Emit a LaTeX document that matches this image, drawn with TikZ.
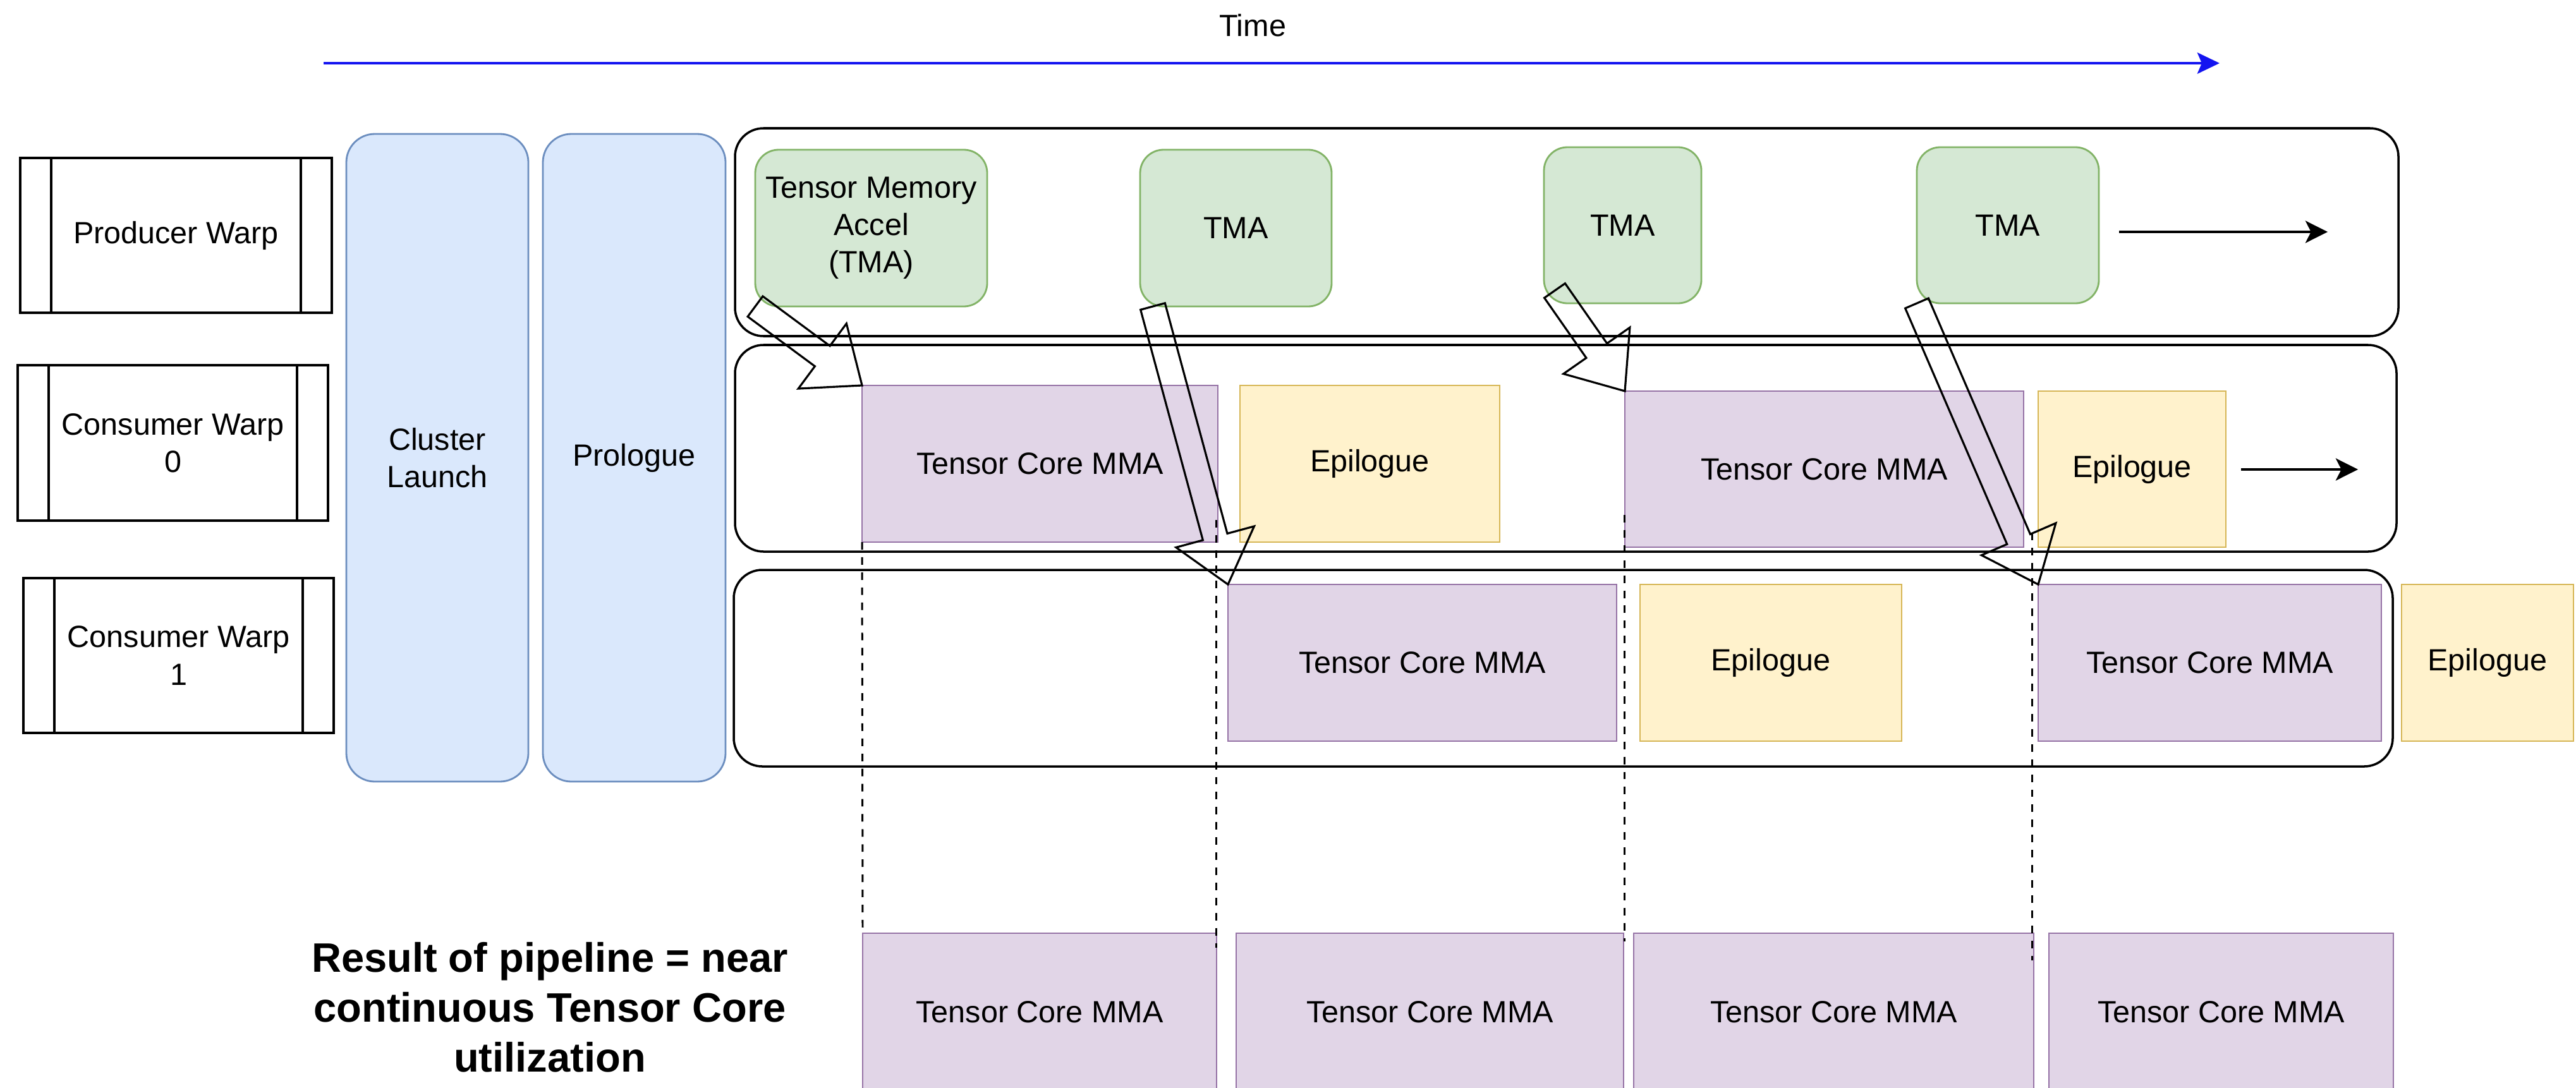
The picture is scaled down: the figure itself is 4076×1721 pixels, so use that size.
\documentclass[tikz,border=0pt]{standalone}
\usepackage{fontspec}
\setmainfont{Liberation Sans}
\usetikzlibrary{calc,arrows.meta}

\definecolor{blueF}{HTML}{DAE8FC}\definecolor{blueS}{HTML}{6C8EBF}
\definecolor{greenF}{HTML}{D5E8D4}\definecolor{greenS}{HTML}{82B366}
\definecolor{purpF}{HTML}{E1D5E7}\definecolor{purpS}{HTML}{9673A6}
\definecolor{yelF}{HTML}{FFF2CC}\definecolor{yelS}{HTML}{D6B656}
\definecolor{timeblue}{HTML}{1414F0}

% box given by its corners in pixel units: name, style, x1, y1, x2, y2, text
\newcommand\bx[7]{%
  \node[#2, minimum width={(#5-#3)*0.01cm}, minimum height={(#6-#4)*0.01cm}]
    (#1) at ({(#3+#5)/2},{(#4+#6)/2}) {#7};}

% hollow block arrow from tail #1 to tip #2, helper prefix #3
\newcommand\flexarrow[3]{%
  \coordinate (#3h) at ($(#2)!0.78cm!(#1)$);
  \draw[hollow]
    ($(#1)!0.2cm!90:(#2)$) -- ($(#3h)!0.2cm!90:(#2)$) --
    ($(#3h)!0.64cm!90:(#2)$) -- (#2) --
    ($(#3h)!0.64cm!-90:(#2)$) -- ($(#3h)!0.2cm!-90:(#2)$) --
    ($(#1)!0.2cm!-90:(#2)$) -- cycle;}

\begin{document}
\begin{tikzpicture}[x=0.01cm, y=-0.01cm,
  lbl/.style={font=\fontsize{13.8pt}{16.8pt}\selectfont, align=center, inner sep=0pt, outer sep=0pt},
  warp/.style={lbl, draw=black, line width=0.9pt, fill=white},
  phase/.style={lbl, draw=blueS, fill=blueF, line width=0.8pt, rounded corners=0.45cm},
  tmabox/.style={lbl, draw=greenS, fill=greenF, line width=0.8pt, rounded corners=0.37cm},
  mma/.style={lbl, draw=purpS, fill=purpF, line width=0.8pt},
  epi/.style={lbl, draw=yelS, fill=yelF, line width=0.8pt},
  lane/.style={draw=black, line width=1pt, rounded corners=0.45cm, inner sep=0pt},
  hollow/.style={draw=black, line width=0.9pt, line join=miter},
  sync/.style={draw=black, line width=0.85pt, dash pattern=on 3.4pt off 3.4pt},
  laneflow/.style={line width=1pt, -{Stealth[length=10pt,width=10pt,inset=2.5pt]}},
  timeline/.style={draw=timeblue, line width=1.2pt, -{Stealth[length=10pt,width=9.5pt,inset=2pt]}}]

\useasboundingbox[fill=white] (0,0) rectangle (4076,1721);

% time axis
\coordinate (t0) at (512,100);
\coordinate (t1) at (3512,100);
\draw[timeline] (t0) -- (t1);
\node[lbl] (timelbl) at (1982,40) {Time};

% warp labels
\bx{pw}{warp}{32}{250}{525}{495}{Producer Warp}
\bx{cw0}{warp}{28}{578}{519}{824}{Consumer Warp\\0}
\bx{cw1}{warp}{37}{915}{528}{1160}{Consumer Warp\\1}
\foreach \w in {pw,cw0,cw1}{
  \draw[line width=0.9pt] ([xshift=0.49cm]\w.north west) -- ([xshift=0.49cm]\w.south west);
  \draw[line width=0.9pt] ([xshift=-0.49cm]\w.north east) -- ([xshift=-0.49cm]\w.south east);
}

% launch phases
\bx{cl}{phase}{548}{212}{836}{1237}{Cluster\\Launch}
\bx{pro}{phase}{859}{212}{1148}{1237}{Prologue}

% lanes
\bx{lane0}{lane}{1163}{203}{3795}{532}{}
\bx{lane1}{lane}{1163}{546}{3792}{873}{}
\bx{lane2}{lane}{1161}{902}{3786}{1213}{}

% producer: TMA loads
\bx{tma1}{tmabox}{1195}{237}{1562}{485}{Tensor Memory\\Accel\\(TMA)}
\bx{tma2}{tmabox}{1804}{237}{2107}{485}{TMA}
\bx{tma3}{tmabox}{2443}{233}{2692}{480}{TMA}
\bx{tma4}{tmabox}{3033}{233}{3321}{480}{TMA}

% consumer warp 0
\bx{mmaA}{mma}{1364}{610}{1927}{858}{Tensor Core MMA}
\bx{epiA}{epi}{1962}{610}{2373}{858}{Epilogue}
\bx{mmaC}{mma}{2571}{619}{3202}{866}{Tensor Core MMA}
\bx{epiC}{epi}{3225}{619}{3522}{866}{Epilogue}

% consumer warp 1
\bx{mmaB}{mma}{1943}{925}{2558}{1173}{Tensor Core MMA}
\bx{epiB}{epi}{2595}{925}{3009}{1173}{Epilogue}
\bx{mmaD}{mma}{3225}{925}{3768}{1173}{Tensor Core MMA}
\bx{epiD}{epi}{3800}{925}{4072}{1173}{Epilogue}

% resulting tensor core timeline
\bx{r1}{mma}{1365}{1477}{1925}{1727}{Tensor Core MMA}
\bx{r2}{mma}{1956}{1477}{2569}{1727}{Tensor Core MMA}
\bx{r3}{mma}{2585}{1477}{3218}{1727}{Tensor Core MMA}
\bx{r4}{mma}{3242}{1477}{3787}{1727}{Tensor Core MMA}

\node[font=\fontsize{18.5pt}{22.5pt}\selectfont\bfseries, align=center, inner sep=0pt]
  (result) at (870,1594) {Result of pipeline = near\\continuous Tensor Core\\utilization};

% continuation arrows
\coordinate (pa) at (3353,367);
\coordinate (pb) at (3683,367);
\draw[laneflow] (pa) -- (pb);
\coordinate (ca) at (3546,743);
\coordinate (cb) at (3731,743);
\draw[laneflow] (ca) -- (cb);

% synchronisation guides
\coordinate (d2a) at (1924,823);  \coordinate (d2b) at (1924,1500);
\coordinate (d3a) at (2570,815);  \coordinate (d3b) at (2570,1490);
\coordinate (d4a) at (3215,843);  \coordinate (d4b) at (3215,1520);
\draw[sync] (mmaA.south west) -- (r1.north west);
\draw[sync] (d2a) -- (d2b);
\draw[sync] (d3a) -- (d3b);
\draw[sync] (d4a) -- (d4b);

% load hand-offs
\coordinate (f1t) at (tma1.south west);
\coordinate (f2t) at ([xshift=0.2cm]tma2.south west);
\coordinate (f3t) at ([xshift=0.17cm,yshift=0.2cm]tma3.south west);
\coordinate (f4t) at (tma4.south west);
\flexarrow{f1t}{mmaA.north west}{fa}
\flexarrow{f2t}{mmaB.north west}{fb}
\flexarrow{f3t}{mmaC.north west}{fc}
\flexarrow{f4t}{mmaD.north west}{fd}

\end{tikzpicture}
\end{document}
